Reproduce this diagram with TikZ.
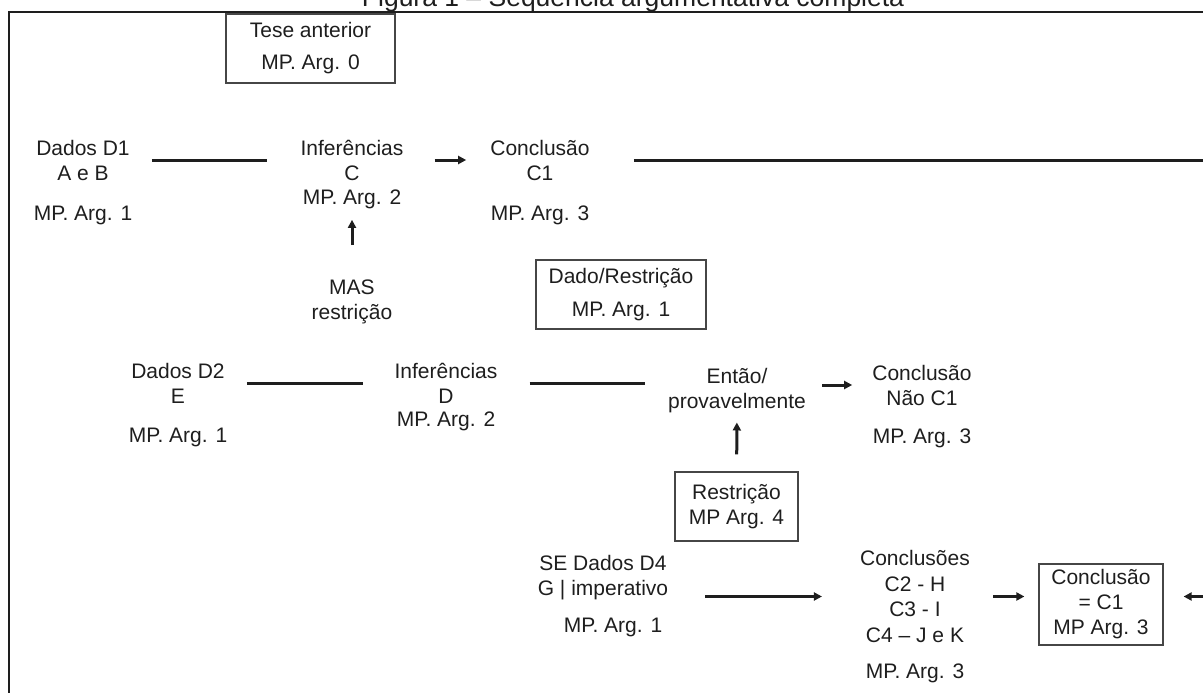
\documentclass[tikz,border=0pt]{standalone}
\usepackage{fontspec}
\setmainfont{Liberation Sans}
\usetikzlibrary{arrows.meta, positioning}
\definecolor{tinta}{RGB}{30,30,30}
\definecolor{borda}{RGB}{70,70,70}

\begin{document}
\begin{tikzpicture}[x=1pt, y=-1pt, >={Triangle[length=8pt,width=8pt]},
      txt/.style={align=center, inner sep=0pt, text=tinta,
                  font=\fontsize{21}{25}\selectfont},
      caixa/.style={txt, draw=borda, line width=1.2pt, minimum height=69pt},
      liga/.style={draw=tinta, line width=3pt},
      seta/.style={liga, ->}]

    \useasboundingbox (0,0) rectangle (1203,693);
    \clip (0,0) rectangle (1203,693);

    \draw[line width=2.4pt, draw=tinta] (9,12) rectangle (1260,760);
    \node[txt, anchor=base, font=\fontsize{26.5}{30}\selectfont] (fig) at (633,7)
        {Figura 1 – Sequência argumentativa completa};

    \node[caixa, minimum width=169pt] (tese) at (310.5,48.5) {Tese anterior\\[7pt]MP. Arg. 0};

    \node[txt] (d1) at (83,160) {Dados D1\\A e B};
    \node[txt, below=25pt of d1] (d1mp) {MP. Arg. 1};
    \node[txt] (inf1) at (352,160) {Inferências\\C};
    \node[txt, below=9pt of inf1] (inf1mp) {MP. Arg. 2};
    \node[txt] (c1) at (540,160) {Conclusão\\C1};
    \node[txt, below=25pt of c1] (c1mp) {MP. Arg. 3};
    \node[txt] (mas) at (352,301.5) {MAS\\restrição};
    \node[caixa, minimum width=170pt] (dado) at (621,294.5) {Dado/Restrição\\[8pt]MP. Arg. 1};
    \coordinate (fimA) at (1220,160);

    \draw[liga, shorten <=22pt, shorten >=33pt] (d1) -- (inf1);
    \draw[seta, shorten <=31pt, shorten >=24pt] (inf1) -- (c1);
    \draw[liga, shorten <=44pt] (c1.east) -- (c1.east -| fimA);
    \draw[seta, shorten <=34pt, shorten >=11pt] (mas) -- (inf1mp);

    \node[txt] (d2) at (178,383) {Dados D2\\E};
    \node[txt, below=25pt of d2] (d2mp) {MP. Arg. 1};
    \node[txt] (inf2) at (446,383) {Inferências\\D};
    \node[txt, below=8pt of inf2] (inf2mp) {MP. Arg. 2};
    \node[txt] (ent) at (737,391) {Então/\\provavelmente};
    \node[txt] (c2) at (922,385) {Conclusão\\Não C1};
    \node[txt, below=23pt of c2] (c2mp) {MP. Arg. 3};
    \node[caixa, minimum width=123pt] (rest) at (736.5,506.5) {Restrição\\MP Arg. 4};

    \draw[liga, shorten <=22pt, shorten >=31pt] (d2) -- (inf2);
    \draw[liga, shorten <=32pt, shorten >=23pt] (inf2.east) -- (inf2.east -| ent.west);
    \draw[seta, shorten <=16pt, shorten >=20pt] (ent.east |- c2.west) -- (c2.west);
    \draw[seta, shorten <=17pt, shorten >=9pt] (rest) -- (ent);

    \node[txt] (se) at (603,578) {SE Dados D4\\G | imperativo};
    \node[txt, below=17pt of se, xshift=10pt] (semp) {MP. Arg. 1};
    \node[txt, font=\fontsize{21}{25.7}\selectfont] (cs) at (915,596.5)
        {Conclusões\\C2 - H\\C3 - I\\C4 – J e K};
    \node[txt, below=21pt of cs] (csmp) {MP. Arg. 3};
    \node[caixa, minimum width=124pt, minimum height=81pt] (cf) at (1101,604.5)
        {Conclusão\\= C1\\MP Arg. 3};
    \coordinate (fimB) at (1220,596.5);

    \draw[seta, shorten <=37pt, shorten >=38pt] (cs.west -| se.east) -- (cs.west);
    \draw[seta, shorten <=23pt, shorten >=14pt] (cs.east) -- (cs.east -| cf.west);
    \draw[seta, shorten >=20pt] (fimB) -- (fimB -| cf.east);
  \end{tikzpicture}
\end{document}
